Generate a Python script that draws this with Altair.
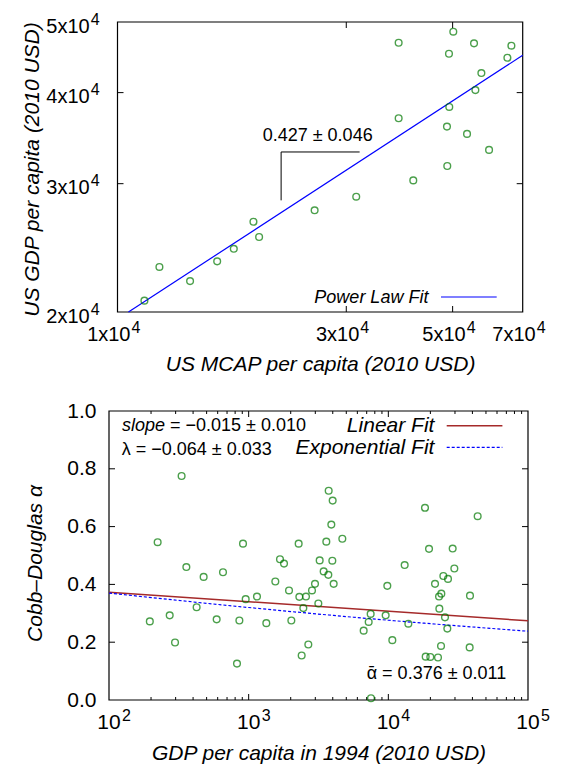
import altair as alt
import pandas as pd

FONT = "Liberation Sans"

# ---------------- top panel data ----------------
mcap = [11380, 12230, 14170, 16140, 17480, 19210, 19740, 25770, 31470, 38580,
        38580, 41390, 50160, 49130, 55410, 66300, 65040, 57400, 55770, 49200,
        48660, 53580, 59560, 48730]
gdp_us = [20730, 23060, 22050, 23470, 24420, 26600, 25350, 27580, 28790, 46830,
          36890, 30310, 48490, 45230, 46740, 46390, 44660, 42550, 40320, 38230,
          35930, 35110, 33380, 31720]
fit_mcap = [10540, 70000]
fit_gdp = [20000, 45010]
top_xticks = [10000, 30000, 50000, 70000]
top_xlabels = ["1x10", "3x10", "5x10", "7x10"]
top_yticks = [20000, 30000, 40000, 50000]
top_ylabels = ["2x10", "3x10", "4x10", "5x10"]
top_exp = ["4", "4", "4", "4"]

# ---------------- bottom panel data ----------------
gdp94 = [331, 223, 358, 476, 655, 196, 272, 297, 424, 590,
         858, 911, 952, 825, 1147, 1338, 1552, 1676, 1791, 1945,
         2021, 2280, 2306, 2573, 2463, 2396, 2674, 2841, 2985, 3154,
         3224, 3443, 3598, 3719, 3740, 3994, 3907, 3972, 4061, 4684,
         6658, 7232, 7472, 7513, 9570, 9835, 10681, 13090, 13910, 18300,
         19560, 21590, 18510, 19980, 22680, 23070, 23960, 23190, 23840, 24770,
         26740, 25450, 26450, 28880, 29690, 38430, 38220, 43610]
alpha = [0.775, 0.546, 0.460, 0.426, 0.442, 0.272, 0.293, 0.199, 0.321, 0.279,
         0.275, 0.541, 0.349, 0.126, 0.358, 0.266, 0.410, 0.487, 0.472, 0.379,
         0.275, 0.541, 0.357, 0.358, 0.318, 0.154, 0.192, 0.379, 0.402, 0.334,
         0.483, 0.445, 0.548, 0.433, 0.724, 0.690, 0.607, 0.482, 0.402, 0.558,
         0.240, 0.270, 0.298, 0.006, 0.293, 0.395, 0.207, 0.467, 0.264, 0.665,
         0.523, 0.402, 0.150, 0.149, 0.147, 0.358, 0.368, 0.316, 0.187, 0.429,
         0.419, 0.286, 0.247, 0.524, 0.455, 0.361, 0.182, 0.636]
lin_x = [100, 100000]
lin_y = [0.373, 0.274]
exp_x = [100, 1000, 10000, 100000]
exp_y = [0.370, 0.320, 0.276, 0.238]
bot_xticks = [100, 1000, 10000, 100000]
bot_xexp = ["2", "3", "4", "5"]
bot_yticks = [0, 0.2, 0.4, 0.6, 0.8, 1.0]

# ---------------- geometry ----------------
W1, H1 = 414, 290
L1, R1 = 8.5, 413.7
W2, H2 = 419, 289
MAIN, SUP = 20, 16
GREEN = "#007800"

one = pd.DataFrame({"a": [0]})
rule = dict(color="black", strokeWidth=1)


def txt(s, x, y, size=18, align="left", style="normal"):
    return alt.Chart(one).mark_text(text=s, font=FONT, fontSize=size, fontStyle=style,
                                    align=align, baseline="middle", color="black").encode(
        x=alt.value(x), y=alt.value(y))


def hline(x1, x2, y, color, width=1.2, dash=None):
    kw = dict(color=color, strokeWidth=width)
    if dash:
        kw["strokeDash"] = dash
    return alt.Chart(one).mark_rule(**kw).encode(x=alt.value(x1), x2=alt.value(x2), y=alt.value(y))


def frame(x1, x2, h):
    return alt.Chart(one).mark_rect(fillOpacity=0, stroke="black", strokeWidth=1.2).encode(
        x=alt.value(x1), x2=alt.value(x2), y=alt.value(0), y2=alt.value(h))


def label_mark(align, size, dx=0, dy=0):
    return dict(font=FONT, fontSize=size, align=align, baseline="middle", color="black", dx=dx, dy=dy)


# ---------------- top panel ----------------
xs1 = alt.Scale(type="log", domain=[10000, 70000], range=[L1, R1], nice=False)
ys1 = alt.Scale(type="log", domain=[20000, 50000], nice=False)
ax1x = alt.Axis(values=top_xticks, labels=False, title="US MCAP per capita (2010 USD)",
                titleY=52, titleBaseline="middle")
ax1y = alt.Axis(values=top_yticks, labels=False, title="US GDP per capita (2010 USD)",
                titleX=-77, titleY=147, titleBaseline="middle", titleAngle=-90)


def X1(f):
    return alt.X(f, type="quantitative", scale=xs1, axis=ax1x)


def Y1(f):
    return alt.Y(f, type="quantitative", scale=ys1, axis=ax1y)


top_df = pd.DataFrame({"x": mcap, "y": gdp_us})
pts1 = alt.Chart(top_df).mark_point(shape="circle", filled=False, color=GREEN, size=45, strokeWidth=1.4).encode(
    x=X1("x"), y=Y1("y"))
fit1 = alt.Chart(pd.DataFrame({"x": fit_mcap, "y": fit_gdp})).mark_line(color="#0000ff", strokeWidth=1.2).encode(
    x=X1("x"), y=Y1("y"))

ann_df = pd.DataFrame({"x": [21940], "x2": [31990], "y": [33160], "y2": [28460], "tx": [26150], "ty": [34880]})
brk_h = alt.Chart(ann_df).mark_rule(**rule).encode(x=X1("x"), x2="x2:Q", y=Y1("y"))
brk_v = alt.Chart(ann_df).mark_rule(**rule).encode(x=X1("x"), y=Y1("y"), y2="y2:Q")
brk_t = alt.Chart(ann_df).mark_text(text="0.427 ± 0.046", font=FONT, fontSize=18, baseline="middle",
                                    align="center", color="black").encode(x=X1("tx"), y=Y1("ty"))

tx1 = pd.DataFrame({"x": top_xticks[1:3]})
ty1 = pd.DataFrame({"y": top_yticks[1:3]})
xl1 = pd.DataFrame({"x": top_xticks, "t": top_xlabels, "e": top_exp})
yl1 = pd.DataFrame({"y": top_yticks, "t": top_ylabels, "e": top_exp})

top_layers = [
    frame(L1, R1, H1),
    alt.Chart(tx1).mark_rule(**rule).encode(x=X1("x"), y=alt.value(H1), y2=alt.value(H1 - 6)),
    alt.Chart(tx1).mark_rule(**rule).encode(x=X1("x"), y=alt.value(0), y2=alt.value(6)),
    alt.Chart(ty1).mark_rule(**rule).encode(y=Y1("y"), x=alt.value(L1), x2=alt.value(L1 + 6)),
    alt.Chart(ty1).mark_rule(**rule).encode(y=Y1("y"), x=alt.value(R1 - 6), x2=alt.value(R1)),
    # tick labels with superscripts
    alt.Chart(xl1).mark_text(**label_mark("right", MAIN, dx=13)).encode(
        x=X1("x"), y=alt.value(H1 + 23), text="t:N"),
    alt.Chart(xl1).mark_text(**label_mark("left", SUP, dx=14)).encode(
        x=X1("x"), y=alt.value(H1 + 16), text="e:N"),
    alt.Chart(yl1).mark_text(**label_mark("right", MAIN, dy=4.5)).encode(
        y=Y1("y"), x=alt.value(-19.3), text="t:N"),
    alt.Chart(yl1).mark_text(**label_mark("left", SUP, dy=-2.5)).encode(
        y=Y1("y"), x=alt.value(-18.3), text="e:N"),
    fit1, brk_h, brk_v, brk_t,
    txt("Power Law Fit", 319.4, 276, 18, "right", "italic"),
    hline(332, 387.7, 275, "#0000ff"),
    pts1,
]
top = alt.layer(*top_layers).properties(width=W1, height=H1)

# ---------------- bottom panel ----------------
xs2 = alt.Scale(type="log", domain=[100, 100000], nice=False)
ys2 = alt.Scale(type="linear", domain=[0, 1], nice=False, zero=False)
ax2x = alt.Axis(values=bot_xticks, labels=False, title="GDP per capita in 1994 (2010 USD)",
                titleY=53, titleBaseline="middle")
ax2y = alt.Axis(values=bot_yticks, format=".1f", title="Cobb–Douglas α", labelPadding=13, labelFontSize=21,
                titleX=-74, titleY=152, titleBaseline="middle", titleAngle=-90)


def X2(f):
    return alt.X(f, type="quantitative", scale=xs2, axis=ax2x)


def Y2(f):
    return alt.Y(f, type="quantitative", scale=ys2, axis=ax2y)


bot_df = pd.DataFrame({"x": gdp94, "y": alpha})
pts2 = alt.Chart(bot_df).mark_point(shape="circle", filled=False, color=GREEN, size=45, strokeWidth=1.4).encode(
    x=X2("x"), y=Y2("y"))
lin = alt.Chart(pd.DataFrame({"x": lin_x, "y": lin_y})).mark_line(color="#a52a2a", strokeWidth=1.5).encode(
    x=X2("x"), y=Y2("y"))
expf = alt.Chart(pd.DataFrame({"x": exp_x, "y": exp_y})).mark_line(
    color="#0000ff", strokeWidth=1.2, strokeDash=[3, 2], interpolate="monotone").encode(
    x=X2("x"), y=Y2("y"))

minor = [m * d for d in (100, 1000, 10000) for m in range(2, 10)]
tx2 = pd.DataFrame({"x": bot_xticks[1:3]})
tm2 = pd.DataFrame({"x": minor})
ty2 = pd.DataFrame({"y": bot_yticks[1:5]})
xl2 = pd.DataFrame({"x": bot_xticks, "t": ["10"] * 4, "e": bot_xexp})
bot_layers = [
    frame(0, W2, H2),
    alt.Chart(tx2).mark_rule(**rule).encode(x=X2("x"), y=alt.value(H2), y2=alt.value(H2 - 6)),
    alt.Chart(tx2).mark_rule(**rule).encode(x=X2("x"), y=alt.value(0), y2=alt.value(6)),
    alt.Chart(tm2).mark_rule(**rule).encode(x=X2("x"), y=alt.value(H2), y2=alt.value(H2 - 3)),
    alt.Chart(tm2).mark_rule(**rule).encode(x=X2("x"), y=alt.value(0), y2=alt.value(3)),
    alt.Chart(ty2).mark_rule(**rule).encode(y=Y2("y"), x=alt.value(0), x2=alt.value(6)),
    alt.Chart(ty2).mark_rule(**rule).encode(y=Y2("y"), x=alt.value(W2 - 6), x2=alt.value(W2)),
    alt.Chart(xl2).mark_text(**label_mark("center", 21)).encode(
        x=X2("x"), y=alt.value(H2 + 23.4), text="t:N"),
    alt.Chart(xl2).mark_text(**label_mark("left", 16, dx=13)).encode(
        x=X2("x"), y=alt.value(H2 + 16), text="e:N"),
    lin, expf,
    txt("slope", 56, 14.5, 18, "right", "italic"),
    txt("= −0.015 ± 0.010", 61, 14.5, 18, "left"),
    txt("λ = −0.064 ± 0.033", 12.7, 38.5, 18, "left"),
    txt("Linear Fit", 325.4, 14.5, 21, "right", "italic"),
    txt("Exponential Fit", 325.4, 36.5, 21, "right", "italic"),
    hline(337.7, 393.4, 14.7, "#a52a2a", 1.5),
    hline(337.7, 393.4, 36.3, "#0000ff", 1.2, [3, 2]),
    txt("ᾱ = 0.376 ± 0.011", 257.7, 263, 18, "left"),
    pts2,
]
bottom = alt.layer(*bot_layers).properties(width=W2, height=H2)

chart = alt.vconcat(top, bottom, spacing=99, bounds="flush").properties(
    padding={"left": 13, "top": 3, "right": 5, "bottom": 5}
).configure_view(stroke=None).configure_axis(
    labelFont=FONT, labelFontSize=20, labelColor="black",
    titleFont=FONT, titleFontSize=21, titleFontStyle="italic", titleFontWeight="normal", titleColor="black",
    grid=False, domain=False, ticks=False, tickSize=0, labelFlush=False, labelOverlap=False
)

chart.save("out.html", embed_options={"renderer": "svg", "actions": False})
